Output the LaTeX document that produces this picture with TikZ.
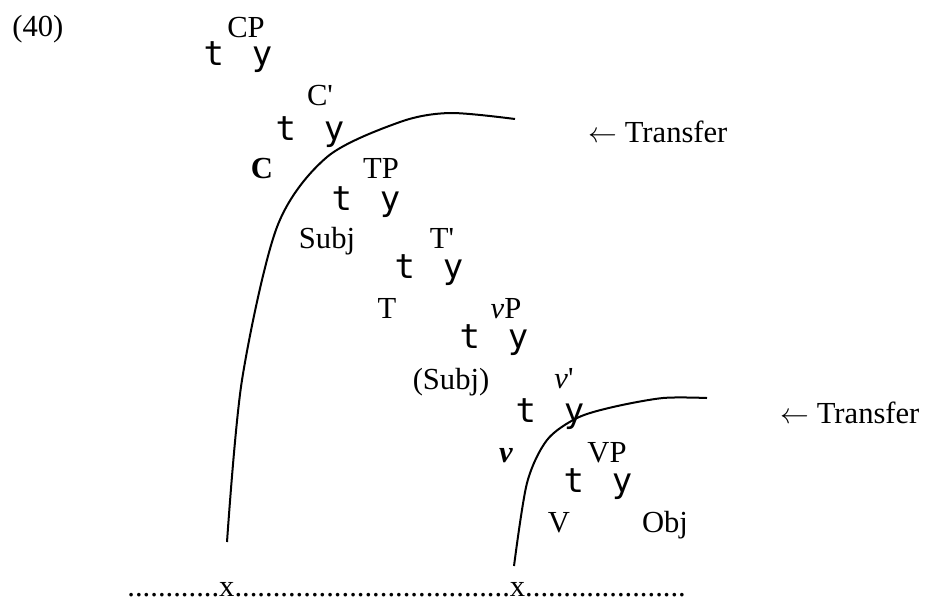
\documentclass[tikz,border=0pt]{standalone}
\usepackage{fontspec}
\setmainfont{Liberation Serif}
\newfontfamily\branchfont{DejaVu Sans Mono}

\tikzset{
  lbl/.style={inner sep=0pt, anchor=base, font=\fontsize{15.3}{18}\selectfont},
  branch/.style={inner sep=0pt, anchor=base, font=\branchfont\fontsize{17}{19}\selectfont},
  phase/.style={line width=1pt},
}
\newcommand{\ty}{t\hspace{14pt}y}
\newcommand{\prm}{\textquotesingle}

\begin{document}
\begin{tikzpicture}[x=0.5pt, y=-0.5pt]
\useasboundingbox (0,0) rectangle (930,601);

% Example number
\node[lbl, anchor=base west] (ex) at (12,36) {(40)};

% Tree
\node[lbl] (cp) at (246,37) {CP};
\node[branch] (b1) at (238,65) {\ty};
\node[lbl] (cbar) at (320,105) {C\prm};
\node[branch] (b2) at (310,140) {\ty};
\node[lbl] (c) at (262,178) {\textbf{C}};
\node[lbl] (tp) at (381,178) {TP};
\node[branch] (b3) at (366,210) {\ty};
\node[lbl] (subj) at (327,248) {Subj};
\node[lbl] (tbar) at (442,248) {T\prm};
\node[branch] (b4) at (429,278) {\ty};
\node[lbl] (tense) at (387,318) {T};
\node[lbl] (vp) at (506,318) {\textit{v}P};
\node[branch] (b5) at (494,348) {\ty};
\node[lbl] (subjcopy) at (451,389) {(Subj)};
\node[lbl] (vbar) at (564,388) {\textit{v}\prm};
\node[branch] (b6) at (550,422) {\ty};
\node[lbl] (lightv) at (506,462) {\textbf{\textit{v}}};
\node[lbl] (vphrase) at (607,462) {VP};
\node[branch] (b7) at (598,492) {\ty};
\node[lbl] (verb) at (559,532) {V};
\node[lbl] (obj) at (665,532) {Obj};

% Transfer labels
\node[lbl, anchor=base west] (transfer1) at (588,142) {$\leftarrow$ Transfer};
\node[lbl, anchor=base west] (transfer2) at (780,423) {$\leftarrow$ Transfer};

% Phase boundaries
\draw[phase] plot[smooth] coordinates {(227,542) (242,380)
  (277,227) (327,157) (400,122) (450,113) (515,119)};
\draw[phase] plot[smooth] coordinates {(514,566) (527,483) (547,440)
  (577,418) (613,407) (663,398) (707,398)};

% Linear order
\node[lbl, anchor=base west] (order) at (127,596)
  {............x....................................x.....................};

\end{tikzpicture}
\end{document}
